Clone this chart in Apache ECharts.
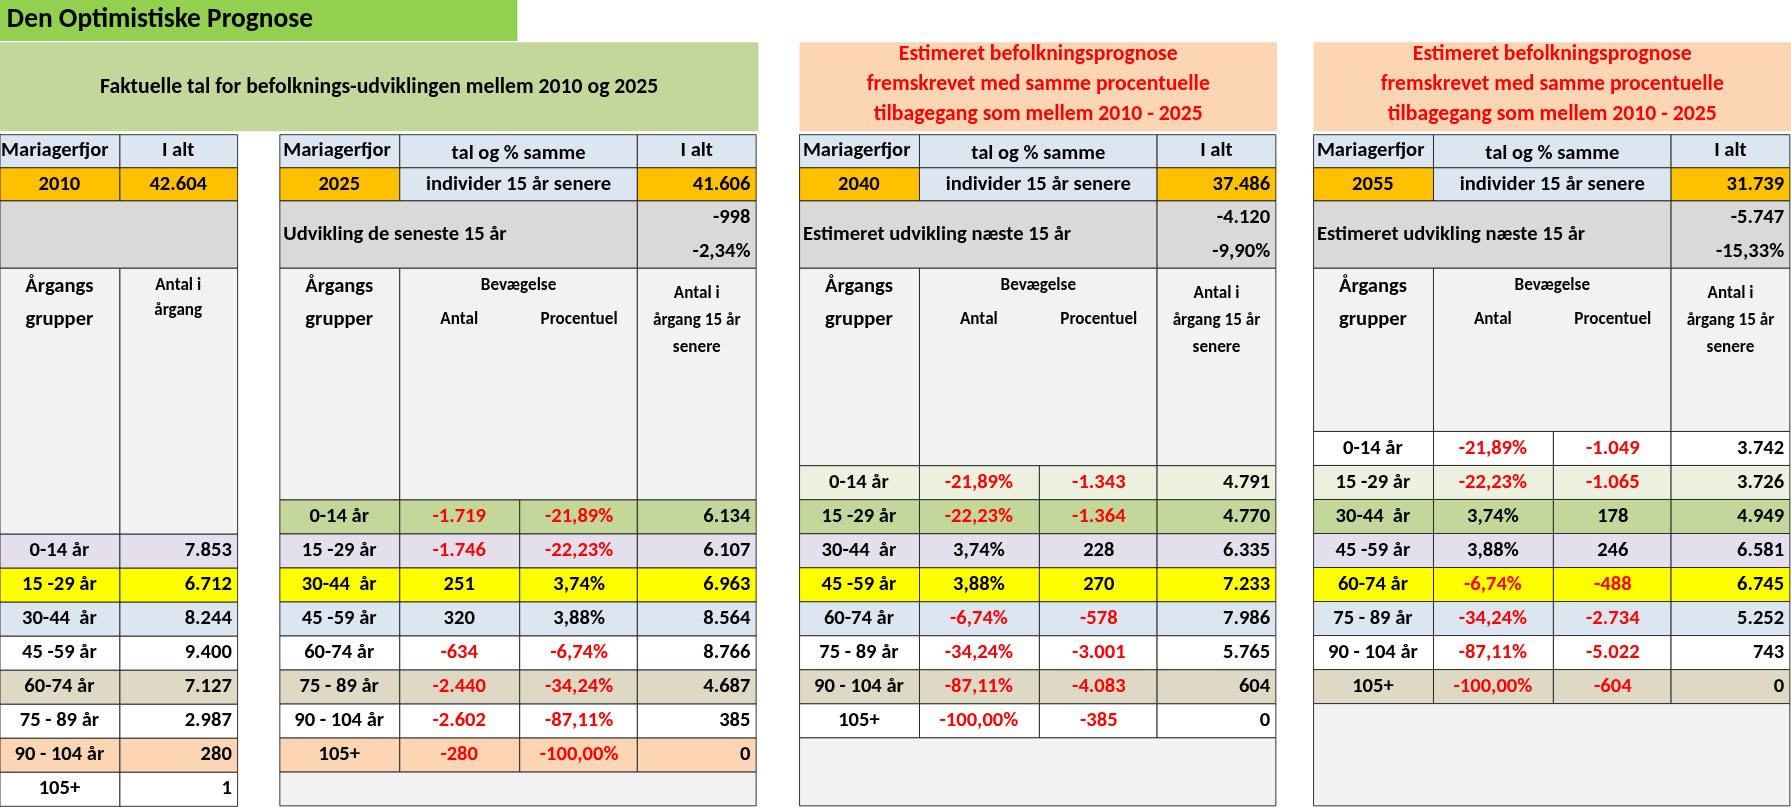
<!DOCTYPE html>
<html><head><meta charset="utf-8">
<script src="https://cdn.jsdelivr.net/npm/echarts@6/dist/echarts.min.js"></script>
<style>html,body{margin:0;background:#fff}#c{width:1791px;height:807px}</style>
</head><body><div id="c"></div>
<script>
const groups = ["0-14 år", "15 -29 år", "30-44  år", "45 -59 år", "60-74 år", "75 - 89 år", "90 - 104 år", "105+"];
const antal2010 = [7853, 6712, 8244, 9400, 7127, 2987, 280, 1];
const t2Antal = [-1719, -1746, 251, 320, -634, -2440, -2602, -280];
const pct = ["-21,89%", "-22,23%", "3,74%", "3,88%", "-6,74%", "-34,24%", "-87,11%", "-100,00%"];
const t2Total = [6134, 6107, 6963, 8564, 8766, 4687, 385, 0];
const t3Antal = [-1343, -1364, 228, 270, -578, -3001, -4083, -385];
const t3Total = [4791, 4770, 6335, 7233, 7986, 5765, 604, 0];
const t4Antal = [-1049, -1065, 178, 246, -488, -2734, -5022, -604];
const t4Total = [3742, 3726, 4949, 6581, 6745, 5252, 743, 0];
const years = ["2010", "2025", "2040", "2055"];
const totals = ["42.604", "41.606", "37.486", "31.739"];
const change = [null, ["-998", "-2,34%"], ["-4.120", "-9,90%"], ["-5.747", "-15,33%"]];

const FONT = "Carlito, 'Liberation Sans Narrow', 'Liberation Sans', sans-serif";
const C = {
  blue: "#DCE6F1", orange: "#FFC000", gray: "#D9D9D9", light: "#F2F2F2",
  lav: "#E4DFEC", yel: "#FFFF00", white: "#FFFFFF", tan: "#DDD9C4",
  peach: "#FCD5B4", green: "#C4D79B", pale: "#EBF1DE"
};
const fmt = (v) => v.toLocaleString("de-DE");
const isNeg = (s) => String(s).startsWith("-");
const els = [];

function cell(x, y, w, h, fill, stroke) {
  els.push({ type: "rect", shape: { x, y, width: w, height: h },
    style: { fill, stroke: stroke === false ? null : "#222", lineWidth: 0.8 } });
}
function txt(x, y, s, o = {}) {
  els.push({ type: "text", x, y, style: {
    text: s, font: `bold ${o.size || 18}px ${FONT}`, fill: o.color || "#000",
    align: o.align || "center", verticalAlign: "middle" } });
}

// banners
cell(0, 0, 453, 36, "#92D050", false);
txt(6, 18, "Den Optimistiske Prognose", { align: "left", size: 24 });
cell(0, 37, 664, 78, C.green, false);
txt(332, 77, "Faktuelle tal for befolknings-udviklingen mellem 2010 og 2025", { size: 19 });
[700, 1150].forEach((x) => {
  cell(x, 37, 418, 78, C.peach, false);
  ["Estimeret befolkningsprognose", "fremskrevet med samme procentuelle", "tilbagegang som mellem 2010 - 2025"]
    .forEach((l, i) => txt(x + 209, 48 + i * 26, l, { color: "#FF0000", size: 19 }));
});

// table 1
const rowH = 29.8;
const fills1 = [C.lav, C.yel, C.blue, C.white, C.tan, C.white, C.peach, C.white];
cell(0, 118, 105, 29, C.blue); cell(105, 118, 103, 29, C.blue);
txt(48, 132, "Mariagerfjor"); txt(156, 132, "I alt");
cell(0, 147, 105, 29, C.orange); cell(105, 147, 103, 29, C.orange);
txt(52, 162, years[0]); txt(156, 162, totals[0]);
cell(0, 176, 208, 59, C.gray);
cell(0, 235, 105, 233, C.light); cell(105, 235, 103, 233, C.light);
txt(52, 251, "Årgangs"); txt(52, 280, "grupper");
txt(156, 250, "Antal i", { size: 15 }); txt(156, 272, "årgang", { size: 15 });
groups.forEach((g, i) => {
  const y = 468 + i * rowH;
  cell(0, y, 105, rowH, fills1[i]); cell(105, y, 103, rowH, fills1[i]);
  txt(52, y + rowH / 2, g); txt(203, y + rowH / 2, fmt(antal2010[i]), { align: "right" });
});

// tables 2-4
const tables = [
  { x: 245, start: 438, label: "Udvikling de seneste 15 år", fills: [C.green, C.lav, C.yel, C.blue, C.white, C.tan, C.white, C.peach],
    c2: t2Antal.map(fmt), c3: pct, c4: t2Total.map(fmt) },
  { x: 700, start: 408, label: "Estimeret udvikling næste 15 år", fills: [C.pale, C.green, C.lav, C.yel, C.blue, C.white, C.tan, C.white],
    c2: pct, c3: t3Antal.map(fmt), c4: t3Total.map(fmt) },
  { x: 1150, start: 378, label: "Estimeret udvikling næste 15 år", fills: [C.white, C.pale, C.green, C.lav, C.yel, C.blue, C.white, C.tan],
    c2: pct, c3: t4Antal.map(fmt), c4: t4Total.map(fmt) }
];
tables.forEach((t, k) => {
  const x = t.x, w = [105, 105, 103, 104];
  const cx = [x, x + 105, x + 210, x + 313];
  cell(cx[0], 118, 105, 29, C.blue); cell(cx[1], 118, 208, 29, C.blue); cell(cx[3], 118, 104, 29, C.blue);
  txt(cx[0] + 50, 132, "Mariagerfjor"); txt(cx[1] + 104, 135, "tal og % samme"); txt(cx[3] + 52, 132, "I alt");
  cell(cx[0], 147, 105, 29, C.orange); cell(cx[1], 147, 208, 29, C.blue); cell(cx[3], 147, 104, 29, C.orange);
  txt(cx[0] + 52, 162, years[k + 1]); txt(cx[1] + 104, 162, "individer 15 år senere"); txt(cx[3] + 99, 162, totals[k + 1], { align: "right" });
  cell(cx[0], 176, 313, 59, C.gray); cell(cx[3], 176, 104, 59, C.gray);
  txt(x + 3, 206, t.label, { align: "left" });
  txt(cx[3] + 99, 191, change[k + 1][0], { align: "right" });
  txt(cx[3] + 99, 221, change[k + 1][1], { align: "right" });
  const hh = t.start - 235;
  cell(cx[0], 235, 105, hh, C.light); cell(cx[1], 235, 208, hh, C.light); cell(cx[3], 235, 104, hh, C.light);
  txt(cx[0] + 52, 251, "Årgangs"); txt(cx[0] + 52, 280, "grupper");
  txt(cx[1] + 104, 250, "Bevægelse", { size: 15 });
  txt(cx[1] + 52, 280, "Antal", { size: 15 }); txt(cx[2] + 52, 280, "Procentuel", { size: 15 });
  ["Antal i", "årgang 15 år", "senere"].forEach((l, i) => txt(cx[3] + 52, 257 + i * 24, l, { size: 15 }));
  groups.forEach((g, i) => {
    const y = t.start + i * rowH, f = t.fills[i], m = y + rowH / 2;
    cx.forEach((xx, j) => cell(xx, y, w[j], rowH, f));
    txt(cx[0] + 52, m, g);
    txt(cx[1] + 52, m, t.c2[i], { color: isNeg(t.c2[i]) ? "#FF0000" : "#000" });
    txt(cx[2] + 52, m, t.c3[i], { color: isNeg(t.c3[i]) ? "#FF0000" : "#000" });
    txt(cx[3] + 99, m, t.c4[i], { align: "right" });
  });
  const endY = t.start + 8 * rowH;
  cell(x, endY, 417, 706 - endY, C.light);
});

const chart = echarts.init(document.getElementById("c"));
chart.setOption({
  animation: false,
  graphic: [{ type: "group", scaleX: 1791 / 1568, scaleY: 807 / 707, children: els }]
});
</script></body></html>
